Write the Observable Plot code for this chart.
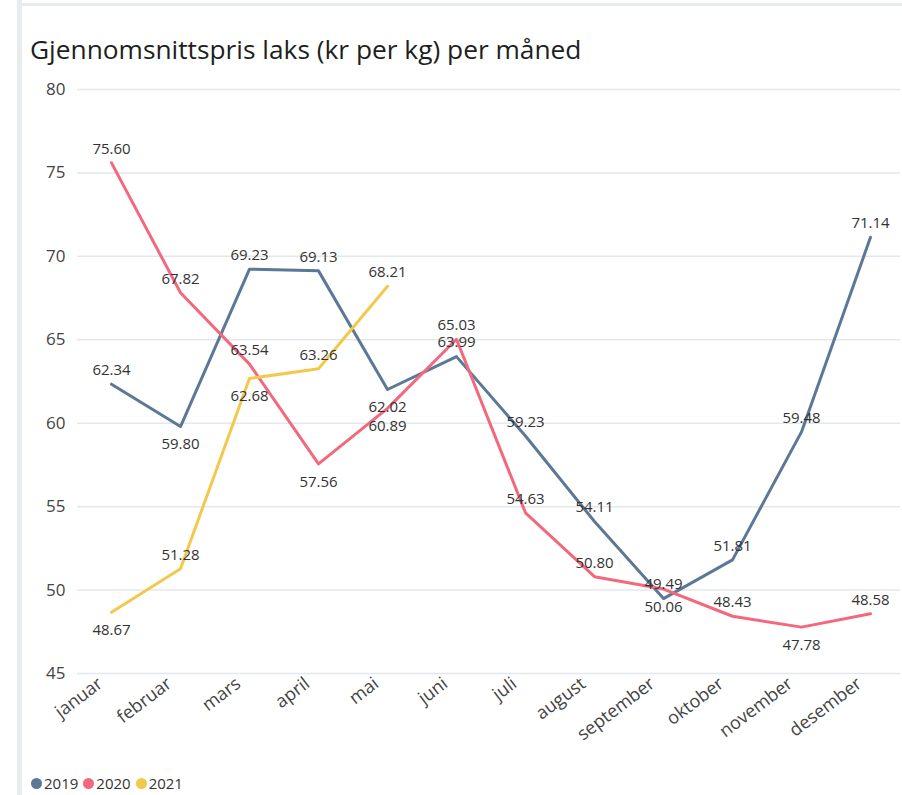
<!DOCTYPE html>
<html>
<head>
<meta charset="utf-8">
<script src="https://cdn.jsdelivr.net/npm/d3@7"></script>
<script src="https://cdn.jsdelivr.net/npm/@observablehq/plot@0.6"></script>
<style>
  body { margin: 0; background: #fff; font-family: "Open Sans", sans-serif; }
  #card { position: relative; width: 902px; height: 795px; overflow: hidden; background: #fff; }
  #lbar { position: absolute; left: 17px; top: 0; width: 5px; height: 795px; background: #e9ecef; }
  #tbar { position: absolute; left: 17px; top: 3px; width: 885px; height: 3px; background: #e9ecef; }
  #title { position: absolute; left: 30px; top: 31px; font-size: 26.3px; line-height: 36px; color: #201f1e; white-space: nowrap; }
  #chart { position: absolute; left: 0; top: 70px; }
  #legend { position: absolute; left: 31px; top: 773px; font-size: 15px; line-height: 20px; color: #333; display: flex; }
  .item { display: flex; align-items: center; margin-right: 5px; }
  .dot { width: 11px; height: 11px; border-radius: 50%; margin-right: 2px; }
</style>
</head>
<body>
<div id="card">
  <div id="lbar"></div>
  <div id="tbar"></div>
  <div id="title">Gjennomsnittspris laks (kr per kg) per måned</div>
  <div id="chart"></div>
  <div id="legend"></div>
</div>
<script>
const months = ["januar","februar","mars","april","mai","juni","juli","august","september","oktober","november","desember"];
const years = ["2019","2020","2021"];
const colors = ["#5b7896","#f4687d","#f2c94c"];
const values2019 = [62.34, 59.80, 69.23, 69.13, 62.02, 63.99, 59.23, 54.11, 49.49, 51.81, 59.48, 71.14];
const values2020 = [75.60, 67.82, 63.54, 57.56, 60.89, 65.03, 54.63, 50.80, 50.06, 48.43, 47.78, 48.58];
const values2021 = [48.67, 51.28, 62.68, 63.26, 68.21];
const yTicks = [45, 50, 55, 60, 65, 70, 75, 80];

// which labels sit below their point (by year -> month index)
const labelsBelow = { "2019": [1, 4], "2020": [3, 4, 8, 10], "2021": [0, 2] };

const series = { "2019": values2019, "2020": values2020, "2021": values2021 };
const data = [];
for (const yr of years) {
  series[yr].forEach((v, i) => {
    data.push({ year: yr, month: months[i], value: v, below: labelsBelow[yr].includes(i) });
  });
}

const fmt = d3.format(".2f");
const labelOpts = { x: "month", y: "value", text: d => fmt(d.value), fontSize: 15, fill: "#333", fontFamily: "Open Sans" };

const chart = Plot.plot({
  width: 902,
  height: 690,
  marginTop: 19,
  marginBottom: 87,
  marginLeft: 77,
  marginRight: 2,
  style: { fontFamily: "Open Sans", background: "transparent", overflow: "visible" },
  x: { type: "point", domain: months, padding: 0, insetLeft: 29, insetRight: 25 },
  y: { domain: [45, 80] },
  color: { domain: years, range: colors },
  marks: [
    Plot.gridY(yTicks, { stroke: "#e4e8ec", strokeOpacity: 1, strokeWidth: 1.5 }),
    Plot.axisY(yTicks, { tickSize: 0, tickPadding: 12, fontSize: 17, fill: "#444", label: null }),
    Plot.axisX({ tickSize: 0, tickPadding: 8, tickRotate: -37, fontSize: 18, fill: "#444", label: null, dx: -11 }),
    Plot.line(data, { x: "month", y: "value", z: "year", stroke: "year", strokeWidth: 3 }),
    Plot.text(data.filter(d => !d.below), { ...labelOpts, dy: -14 }),
    Plot.text(data.filter(d => d.below), { ...labelOpts, dy: 18 })
  ]
});
document.getElementById("chart").appendChild(chart);

const legend = document.getElementById("legend");
years.forEach((yr, i) => {
  const item = document.createElement("div");
  item.className = "item";
  const dot = document.createElement("span");
  dot.className = "dot";
  dot.style.background = colors[i];
  const label = document.createElement("span");
  label.textContent = yr;
  item.appendChild(dot);
  item.appendChild(label);
  legend.appendChild(item);
});
</script>
</body>
</html>
